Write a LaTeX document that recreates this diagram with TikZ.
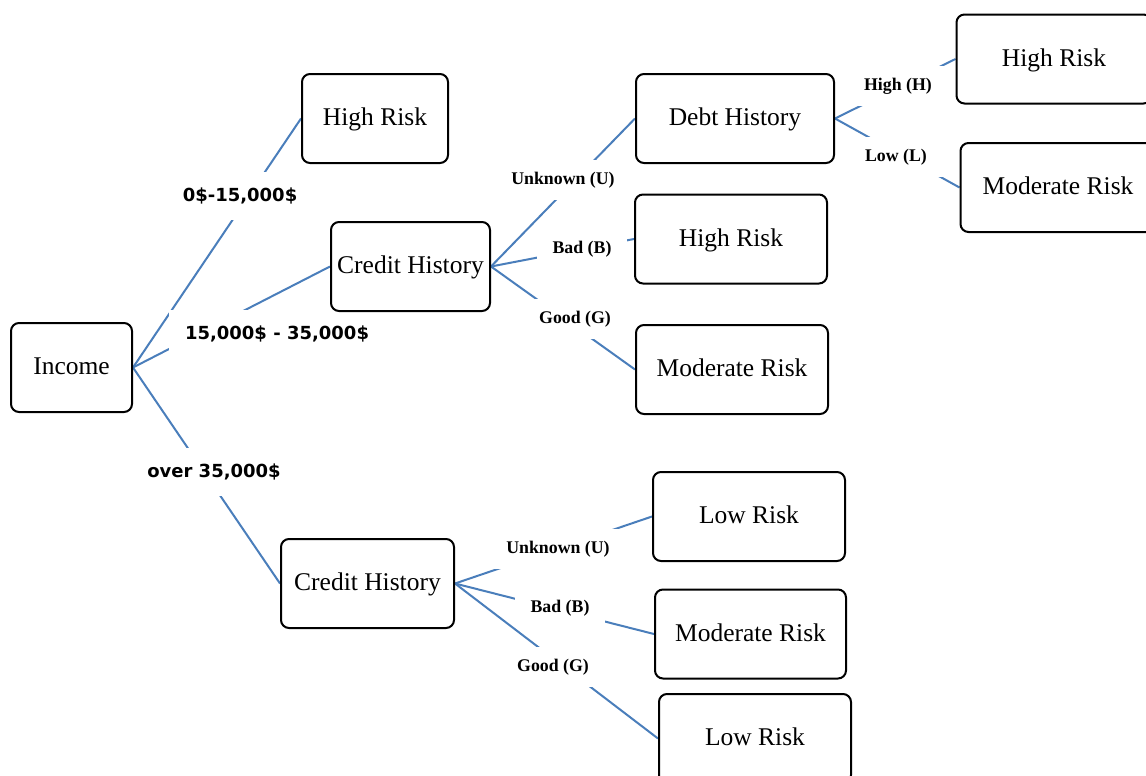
\documentclass[tikz,border=0pt]{standalone}
\usepackage{fontspec}
\setmainfont{Liberation Serif}
\newfontfamily\rangefont{DejaVu Sans}
\usetikzlibrary{backgrounds}
\definecolor{branchblue}{HTML}{4A7EBB}

\begin{document}
\begin{tikzpicture}[x=0.5pt,y=-0.5pt,
  box/.style={draw, line width=1pt, rounded corners=4pt, minimum height=44.5pt,
    inner sep=2pt, text height=10pt, text depth=3pt,
    font=\fontsize{12.75}{15}\selectfont},
  branch/.style={draw=branchblue, line width=1pt},
  incband/.style={fill=white, inner xsep=8pt, inner ysep=8pt, text height=6.8pt,
    text depth=1.4pt, font=\rangefont\bfseries\fontsize{9}{11}\selectfont},
  answer/.style={fill=white, inner xsep=8pt, inner ysep=6pt, text height=6.2pt,
    text depth=2pt, font=\bfseries\fontsize{8.9}{10}\selectfont}]
\useasboundingbox (0,0) rectangle (1146,776);

\node[box, minimum width=60.5pt] (Inc) at (71.5,367.5) {Income};
\node[box, minimum width=73pt] (HR-1) at (375,118.5) {High Risk};
\node[box, minimum width=79.5pt] (CH-1) at (410.5,266.5) {Credit History};
\node[box, minimum width=99pt] (DH) at (735,118.5) {Debt History};
\node[box, minimum width=96pt] (HR-2) at (731,239) {High Risk};
\node[box, minimum width=96pt] (MR-1) at (732,369.5) {Moderate Risk};
\node[box, minimum width=97.5pt] (HR-3) at (1054,59) {High Risk};
\node[box, minimum width=97.5pt] (MR-2) at (1058,187.5) {Moderate Risk};
\node[box, minimum width=86.5pt] (CH-2) at (367.5,583.5) {Credit History};
\node[box, minimum width=96pt] (LR-1) at (749,516.5) {Low Risk};
\node[box, minimum width=95.5pt] (MR-3) at (750.5,634) {Moderate Risk};
\node[box, minimum width=96pt] (LR-2) at (755,738.5) {Low Risk};

\begin{scope}[on background layer]
\path[branch] (Inc.east) edge (HR-1.west);
\path[branch] (Inc.east) edge (CH-1.west);
\path[branch] (Inc.east) edge (CH-2.west);
\path[branch] (CH-1.east) edge (DH.west);
\path[branch] (CH-1.east) edge (HR-2.west);
\path[branch] (CH-1.east) edge (MR-1.west);
\path[branch] (DH.east) edge (HR-3.west);
\path[branch] (DH.east) edge (MR-2.west);
\path[branch] (CH-2.east) edge (LR-1.west);
\path[branch] (CH-2.east) edge (MR-3.west);
\path[branch] (CH-2.east) edge (LR-2.west);

\node[incband] (low-inc) at (240,196) {0\$-15,000\$};
\node[incband] (mid-inc) at (277,334) {15,000\$ - 35,000\$};
\node[incband] (top-inc) at (214,472) {over 35,000\$};

\node[answer] (unk-1) at (563,180) {Unknown (U)};
\node[answer] (bad-1) at (582,249) {Bad (B)};
\node[answer] (good-1) at (575,319) {Good (G)};
\node[answer] (high-d) at (898,86) {High (H)};
\node[answer] (low-d) at (896,157) {Low (L)};
\node[answer] (unk-2) at (558,549) {Unknown (U)};
\node[answer] (bad-2) at (560,608) {Bad (B)};
\node[answer] (good-2) at (553,667) {Good (G)};
\end{scope}
\end{tikzpicture}
\end{document}
